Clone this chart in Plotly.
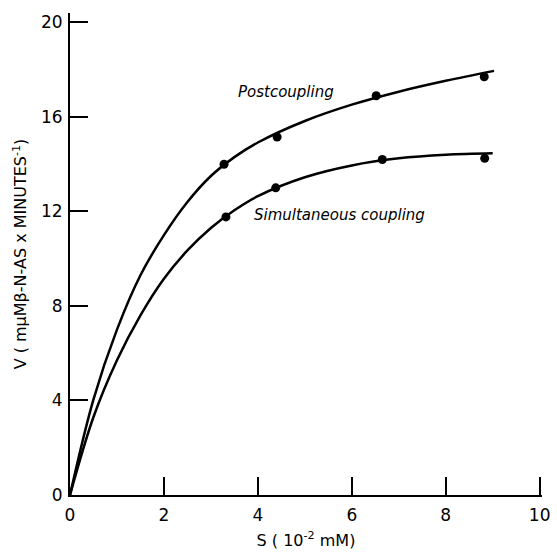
import plotly.graph_objects as go

# Measured points
post_x = [3.28, 4.41, 6.52, 8.82]
post_y = [14.0, 15.15, 16.9, 17.7]
sim_x = [3.32, 4.38, 6.65, 8.83]
sim_y = [11.77, 13.0, 14.2, 14.25]

# Drawn curves
post_curve_x = [0, 0.5, 1, 1.5, 2, 2.5, 3, 3.5, 4, 5, 6, 7, 8, 9.03]
post_curve_y = [0, 4.05, 7.0, 9.3, 11.0, 12.4, 13.5, 14.3, 14.92, 15.83, 16.52, 17.07, 17.53, 17.95]
sim_curve_x = [0, 0.5, 1, 1.5, 2, 2.5, 3, 3.5, 4, 5, 6, 7, 8, 9.0]
sim_curve_y = [0, 3.3, 5.7, 7.6, 9.15, 10.35, 11.3, 12.05, 12.65, 13.45, 13.95, 14.25, 14.4, 14.46]

x_ticks = [0, 2, 4, 6, 8, 10]
y_ticks = [0, 4, 8, 12, 16, 20]

font_family = "DejaVu Sans, Liberation Sans, sans-serif"

fig = go.Figure()
fig.add_trace(go.Scatter(x=post_curve_x, y=post_curve_y, mode="lines",
                         line=dict(color="black", width=2.5, shape="spline", smoothing=1.0),
                         hoverinfo="skip"))
fig.add_trace(go.Scatter(x=sim_curve_x, y=sim_curve_y, mode="lines",
                         line=dict(color="black", width=2.5, shape="spline", smoothing=1.0),
                         hoverinfo="skip"))
fig.add_trace(go.Scatter(x=post_x, y=post_y, mode="markers",
                         marker=dict(color="black", size=9)))
fig.add_trace(go.Scatter(x=sim_x, y=sim_y, mode="markers",
                         marker=dict(color="black", size=9)))

fig.add_annotation(x=4.6, y=17.06, text="<i>Postcoupling</i>", showarrow=False,
                   font=dict(family=font_family, size=15, color="black"))
fig.add_annotation(x=5.74, y=11.84, text="<i>Simultaneous coupling</i>", showarrow=False,
                   font=dict(family=font_family, size=15, color="black"))

fig.update_layout(
    width=557, height=554,
    margin=dict(l=70, r=7, t=13, b=55),
    paper_bgcolor="white", plot_bgcolor="white",
    showlegend=False,
    font=dict(family=font_family, color="black"),
)
fig.update_xaxes(range=[0, 10.05], tickvals=x_ticks, ticktext=[str(v) for v in x_ticks],
                 ticks="inside", ticklen=18, tickwidth=2, tickcolor="black",
                 showline=True, linecolor="black", linewidth=2,
                 showgrid=False, zeroline=False, ticklabelstandoff=4,
                 ticklabeloverflow="allow",
                 tickfont=dict(size=17, family=font_family),
                 title=dict(text="S ( 10<sup>-2</sup> mM)", font=dict(size=16, family=font_family), standoff=10))
fig.update_yaxes(range=[0, 20.4], tickvals=y_ticks, ticktext=[str(v) for v in y_ticks],
                 ticks="inside", ticklen=18, tickwidth=2, tickcolor="black",
                 showline=True, linecolor="black", linewidth=2,
                 showgrid=False, zeroline=False, ticklabelstandoff=2,
                 tickfont=dict(size=17, family=font_family),
                 title=dict(text="V ( mμMβ-N-AS x MINUTES<sup>-1</sup>)", font=dict(size=16, family=font_family), standoff=10))

fig.write_html("out.html")
